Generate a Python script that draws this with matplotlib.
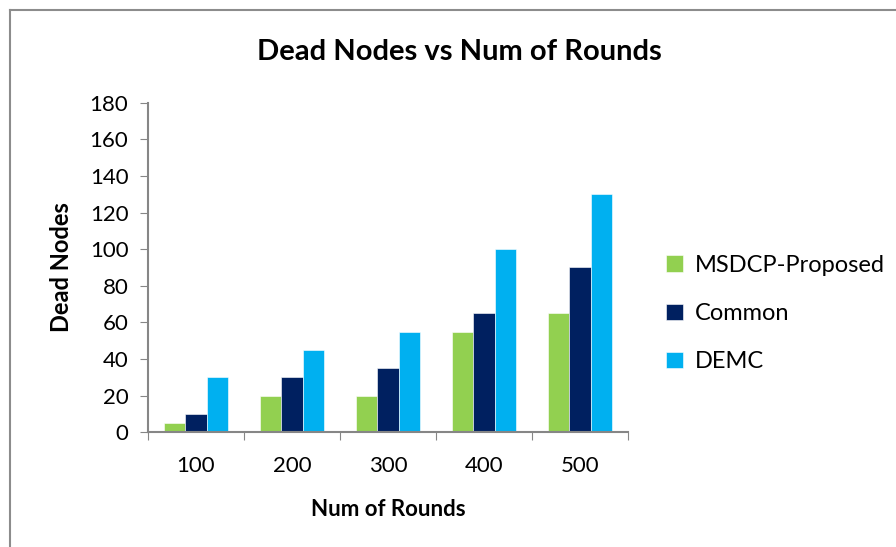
import matplotlib.pyplot as plt
from matplotlib.lines import Line2D
import numpy as np

plt.rcParams['font.family'] = ['Lato', 'DejaVu Sans']

# data
rounds = ["100", "200", "300", "400", "500"]
msdcp = [5, 20, 20, 55, 65]
common = [10, 30, 35, 65, 90]
demc = [30, 45, 55, 100, 130]
series_names = ["MSDCP-Proposed", "Common", "DEMC"]
colors = ["#92D050", "#002060", "#00B0F0"]

fig = plt.figure(figsize=(8.96, 5.47), dpi=100)
ax = fig.add_axes([0.165, 0.21, 0.536, 0.602])

x = np.arange(len(rounds))
w = 0.222
for i, (vals, name, c) in enumerate(zip([msdcp, common, demc], series_names, colors)):
    ax.bar(x + (i - 1) * w, vals, width=w, color=c, label=name, edgecolor='white', linewidth=0.4)

ax.set_xlim(-0.5, len(rounds) - 0.5)
ax.set_ylim(0, 180)
ax.set_yticks(range(0, 181, 20))
ax.set_xticks(np.arange(-0.5, len(rounds), 1.0))
ax.set_xticklabels([])
ax.set_xticks(x, minor=True)
ax.set_xticklabels(rounds, minor=True)
ax.tick_params(axis='x', which='minor', length=0, labelsize=16, pad=17)
ax.tick_params(axis='x', which='major', length=6, color='#868686', direction='out')
ax.tick_params(axis='y', length=6, color='#868686', labelsize=16, pad=8)

for s in ['top', 'right']:
    ax.spines[s].set_visible(False)
for s in ['left', 'bottom']:
    ax.spines[s].set_color('#868686')
    ax.spines[s].set_linewidth(1.5)

fig.text(0.513, 0.905, "Dead Nodes vs Num of Rounds", fontsize=21, fontweight='bold',
         ha='center', va='center')
ax.set_xlabel("Num of Rounds", fontsize=16, fontweight='bold', labelpad=17)
ax.set_ylabel("Dead Nodes", fontsize=17, fontweight='bold', labelpad=12)

ax.legend(loc='center left', bbox_to_anchor=(1.035, 0.36), frameon=False, fontsize=17,
          handlelength=0.7, handleheight=0.7, labelspacing=1.15, handletextpad=0.5)

# chart border
fig.add_artist(Line2D([0.011, 1.0], [0.982, 0.982], color='#8c8c8c', linewidth=1.5))
fig.add_artist(Line2D([0.011, 0.011], [0.0, 0.982], color='#8c8c8c', linewidth=1.5))

fig.savefig("out.png", dpi=100)
